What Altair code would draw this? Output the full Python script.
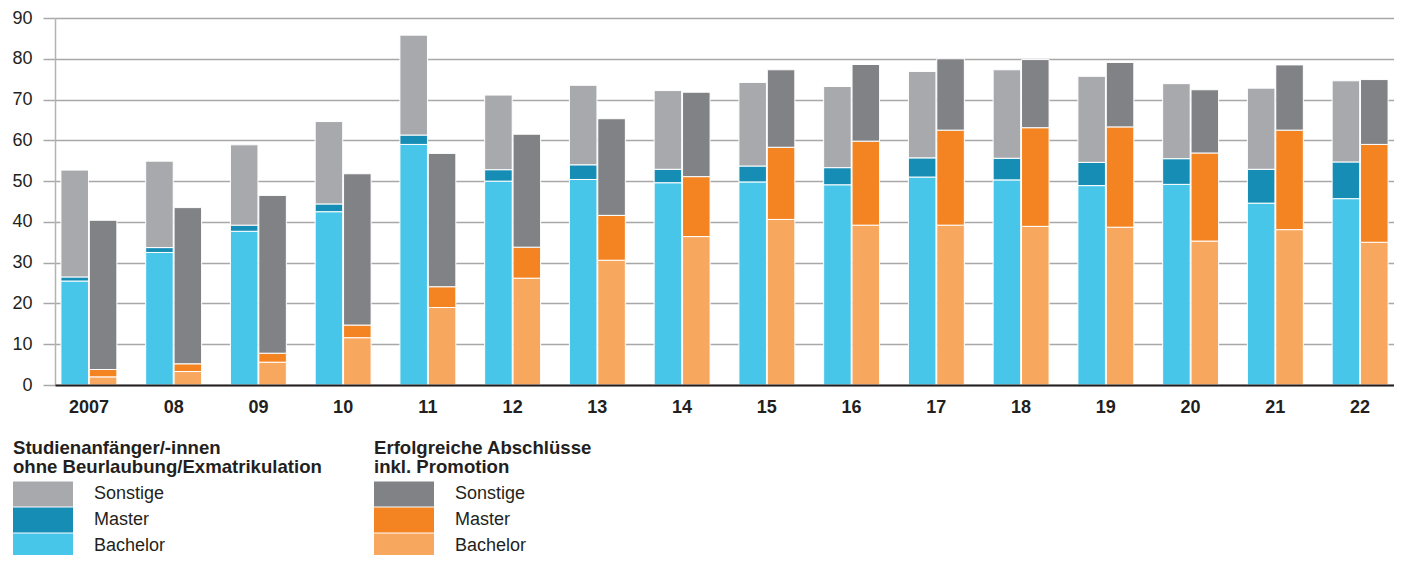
import altair as alt
import pandas as pd

years = ["2007", "08", "09", "10", "11", "12", "13", "14", "15", "16",
         "17", "18", "19", "20", "21", "22"]

# Studienanfänger/-innen (in 1000)
anf_bachelor = [25.5, 32.5, 37.7, 42.5, 59.0, 50.0, 50.4, 49.6, 49.8, 49.1,
                51.0, 50.3, 48.9, 49.2, 44.6, 45.7]
anf_master = [1.0, 1.2, 1.5, 1.9, 2.3, 2.8, 3.6, 3.3, 3.9, 4.2,
              4.7, 5.3, 5.7, 6.3, 8.3, 9.0]
anf_sonstige = [26.2, 21.2, 19.7, 20.2, 24.5, 18.3, 19.5, 19.3, 20.5, 19.9,
                21.2, 21.7, 21.1, 18.4, 19.9, 19.9]

# Erfolgreiche Abschlüsse inkl. Promotion
abs_bachelor = [2.0, 3.3, 5.6, 11.6, 19.0, 26.2, 30.6, 36.4, 40.6, 39.2,
                39.2, 38.9, 38.7, 35.3, 38.1, 35.0]
abs_master = [1.8, 1.9, 2.2, 3.1, 5.1, 7.6, 11.0, 14.7, 17.7, 20.6,
              23.3, 24.2, 24.6, 21.6, 24.4, 24.0]
abs_sonstige = [36.6, 38.3, 38.7, 37.1, 32.7, 27.7, 23.7, 20.7, 19.0, 18.8,
                17.5, 16.7, 15.8, 15.5, 16.0, 15.9]

arten = ["Sonstige", "Master", "Bachelor"]
farben_anf = ["#a7a9ac", "#168db4", "#48c6e9"]
farben_abs = ["#808285", "#f48421", "#f8a75f"]
titel_anf = ["Studienanfänger/-innen", "ohne Beurlaubung/Exmatrikulation"]
titel_abs = ["Erfolgreiche Abschlüsse", "inkl. Promotion"]

rows = []
for i, j in enumerate(years):
    for gruppe, b, m, s in (("A", anf_bachelor, anf_master, anf_sonstige),
                            ("B", abs_bachelor, abs_master, abs_sonstige)):
        rows.append(dict(Jahr=j, Gruppe=gruppe, Art="Bachelor", Wert=b[i], Rang=0))
        rows.append(dict(Jahr=j, Gruppe=gruppe, Art="Master", Wert=m[i], Rang=1))
        rows.append(dict(Jahr=j, Gruppe=gruppe, Art="Sonstige", Wert=s[i], Rang=2))
df = pd.DataFrame(rows)

TXT = "#231f20"

x_enc = alt.X(
    "Jahr:N", sort=years,
    scale=alt.Scale(paddingInner=0.34, paddingOuter=0.07),
    axis=alt.Axis(title=None, labelAngle=0, labelFontWeight="bold", labelFontSize=18,
                  labelColor=TXT, ticks=False, tickSize=0, labelPadding=13,
                  domainColor="#231f20", domainWidth=2, zindex=1),
)
y_enc = alt.Y(
    "Wert:Q", stack="zero",
    scale=alt.Scale(domain=[0, 90], nice=False),
    axis=alt.Axis(title=None, values=list(range(0, 91, 10)), grid=True,
                  gridColor="#a8a8a8", gridWidth=1.5, tickColor="#a8a8a8",
                  tickSize=12, tickWidth=1.5, labelPadding=11, labelFontSize=18,
                  labelColor=TXT, domainColor="#b3b3b3", domainWidth=1.5),
)
xo_enc = alt.XOffset("Gruppe:N", scale=alt.Scale(domain=["A", "B"], paddingInner=0.03, paddingOuter=0))

SYMBOL = "M-1,-1H3.8V1H-1Z"


def make_legend(title, lx, ly):
    return alt.Legend(
        title=title, orient="none", legendX=lx, legendY=ly, direction="vertical",
        titleFontSize=18.6, titleFontWeight="bold", titleColor=TXT, titleLineHeight=19,
        titleLimit=600, titlePadding=5, labelFontSize=18, labelColor=TXT, labelLimit=300,
        labelOffset=56, symbolType=SYMBOL, symbolSize=625, symbolStrokeWidth=0,
        symbolOpacity=1, rowPadding=1, padding=0,
    )


anf = alt.Chart(df).transform_filter("datum.Gruppe == 'A'").mark_bar(
    stroke="white", strokeWidth=1
).encode(
    x=x_enc, y=y_enc, xOffset=xo_enc,
    color=alt.Color("Art:N", scale=alt.Scale(domain=arten, range=farben_anf),
                    legend=make_legend(titel_anf, -42, 421)),
    order=alt.Order("Rang:Q", sort="ascending"),
)

abs_ = alt.Chart(df).transform_filter("datum.Gruppe == 'B'").mark_bar(
    stroke="white", strokeWidth=1
).encode(
    x=x_enc, y=y_enc, xOffset=xo_enc,
    color=alt.Color("Art:N", scale=alt.Scale(domain=arten, range=farben_abs),
                    legend=make_legend(titel_abs, 319, 421)),
    order=alt.Order("Rang:Q", sort="ascending"),
)

chart = alt.layer(anf, abs_).resolve_scale(color="independent").properties(
    width=1339, height=367,
    autosize=alt.AutoSizeParams(type="none"),
    padding={"left": 47, "top": 10, "right": 0, "bottom": 170},
).configure(font="Liberation Sans").configure_view(stroke=None)

chart.save("out.html", embed_options={"renderer": "svg", "actions": False})
